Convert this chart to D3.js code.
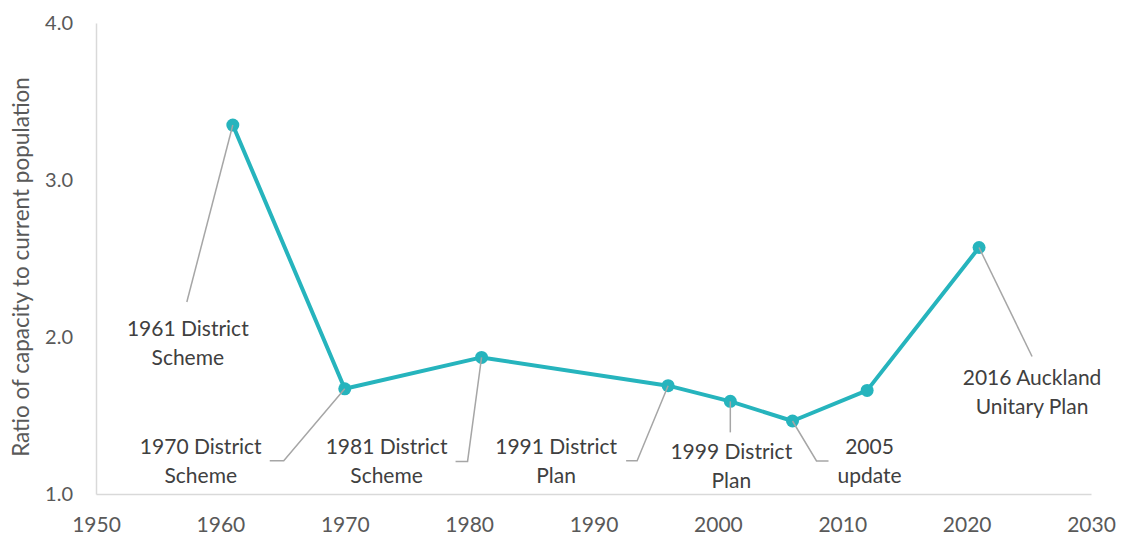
<!DOCTYPE html>
<html lang="en">
  <head>
    <meta charset="utf-8">
    <style>
      body { margin: 0; background: #fff; }
      text { font-family: Lato, "Open Sans", sans-serif; fill: #404040; }
      .tick text { fill: #595959; }
      .leader { fill: none; stroke: #a6a6a6; stroke-width: 1.5; }
    </style>
  </head>
  <body>
  <script src="https://d3js.org/d3.v7.min.js"></script>
  <script>
  var width = 1127;
  var height = 538;

  // plan years and ratio of capacity to population
  var years = [1961, 1970, 1981, 1996, 2001, 2006, 2012, 2021];
  var ratios = [3.35, 1.67, 1.87, 1.69, 1.59, 1.465, 1.66, 2.57];
  var labels = [
    ["1961 District", "Scheme"],
    ["1970 District", "Scheme"],
    ["1981 District", "Scheme"],
    ["1991 District", "Plan"],
    ["1999 District", "Plan"],
    ["2005", "update"],
    null,
    ["2016 Auckland", "Unitary Plan"]
  ];
  var xTicks = [1950, 1960, 1970, 1980, 1990, 2000, 2010, 2020, 2030];
  var yTicks = [1.0, 2.0, 3.0, 4.0];

  // where each annotation sits, in pixels relative to its point
  var noteLayout = [
    { leader: [[0, 0], [-46, 177]], text: [-45, 211] },
    { leader: [[0, 0], [-61, 72], [-75, 72]], text: [-144, 65] },
    { leader: [[0, 0], [-14, 104], [-26, 104]], text: [-95, 97] },
    { leader: [[0, 0], [-31, 75], [-42, 75]], text: [-112, 68] },
    { leader: [[0, 0], [0, 31]], text: [1, 58] },
    { leader: [[0, 0], [24, 40], [36, 40]], text: [77, 33] },
    null,
    { leader: [[0, 0], [53, 109]], text: [53, 137] }
  ];

  var svg = d3.select("body")
    .append("svg")
    .attr("width", width)
    .attr("height", height);

  var x = d3.scaleLinear().domain([1950, 2030]).range([96, 1091]);
  var y = d3.scaleLinear().domain([1, 4]).range([494, 23]);

  // x axis
  var xAxis = svg.append("g")
    .attr("transform", "translate(0," + y(1) + ")")
    .call(d3.axisBottom(x).tickValues(xTicks).tickFormat(d3.format("d")).tickSize(0));
  xAxis.select(".domain").attr("stroke", "#d9d9d9").attr("stroke-width", 1.5);
  xAxis.selectAll(".tick text").attr("y", 23).style("font-size", "21px");

  // y axis
  var yAxis = svg.append("g")
    .attr("transform", "translate(" + x(1950) + ",0)")
    .call(d3.axisLeft(y).tickValues(yTicks).tickFormat(d3.format(".1f")).tickSize(0).tickPadding(23));
  yAxis.select(".domain").attr("stroke", "#d9d9d9").attr("stroke-width", 1.5);
  yAxis.selectAll(".tick text").style("font-size", "20px");

  svg.append("text")
    .attr("transform", "translate(29,267) rotate(-90)")
    .attr("text-anchor", "middle")
    .style("font-size", "22.5px")
    .style("fill", "#595959")
    .text("Ratio of capacity to current population");

  var points = years.map(function(yr, i) { return [yr, ratios[i]]; });

  var line = d3.line()
    .x(function(d) { return x(d[0]); })
    .y(function(d) { return y(d[1]); });

  svg.append("path")
    .datum(points)
    .attr("d", line)
    .attr("fill", "none")
    .attr("stroke", "#26b4bd")
    .attr("stroke-width", 4)
    .attr("stroke-linejoin", "round");

  svg.selectAll("circle")
    .data(points)
    .enter().append("circle")
    .attr("cx", function(d) { return x(d[0]); })
    .attr("cy", function(d) { return y(d[1]); })
    .attr("r", 6.5)
    .attr("fill", "#26b4bd");

  // annotations
  points.forEach(function(p, i) {
    var lay = noteLayout[i];
    if (!lay || !labels[i]) return;
    var px = x(p[0]), py = y(p[1]);
    svg.append("path")
      .attr("class", "leader")
      .attr("d", d3.line()(lay.leader.map(function(o) { return [px + o[0], py + o[1]]; })));
    var t = svg.append("text")
      .attr("text-anchor", "middle")
      .style("font-size", "21px");
    labels[i].forEach(function(s, j) {
      t.append("tspan")
        .attr("x", px + lay.text[0])
        .attr("y", py + lay.text[1] + j * 29)
        .text(s);
    });
  });
  </script>
  </body>
</html>
